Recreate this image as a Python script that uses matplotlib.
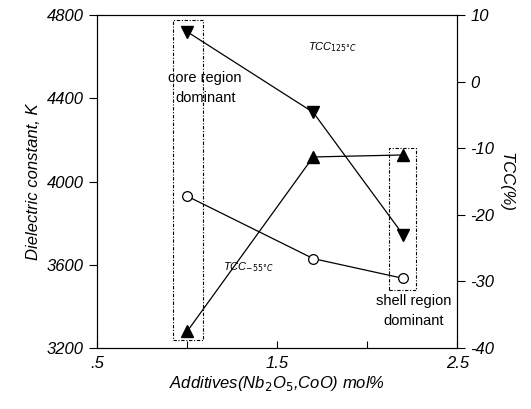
import matplotlib.pyplot as plt
from matplotlib.patches import Rectangle

plt.rcParams['font.family'] = ['Liberation Sans', 'DejaVu Sans']

# additives content, mol%
additives = [1.0, 1.7, 2.2]
# dielectric constant K (left axis)
k_values = [3930, 3630, 3535]
# TCC values, % (right axis)
tcc_125 = [7.5, -4.6, -23.0]
tcc_m55 = [-37.5, -11.3, -11.0]

x_ticks = [0.5, 1.0, 1.5, 2.0, 2.5]
x_ticklabels = ['.5', '', '1.5', '', '2.5']
k_ticks = [3200, 3600, 4000, 4400, 4800]
tcc_ticks = [-40, -30, -20, -10, 0, 10]

fig = plt.figure(figsize=(5.31, 4.09), dpi=100)
ax = fig.add_axes([0.183, 0.149, 0.678, 0.814])
ax2 = ax.twinx()

ax.plot(additives, k_values, color='black', lw=0.9, marker='o', ms=7,
        mfc='white', mec='black', mew=0.9)
ax2.plot(additives, tcc_125, color='black', lw=0.9, marker='v', ms=8, mfc='black', mec='black')
ax2.plot(additives, tcc_m55, color='black', lw=0.9, marker='^', ms=8, mfc='black', mec='black')

ax.set_xlim(0.5, 2.5)
ax.set_ylim(3200, 4800)
ax2.set_ylim(-40, 10)

ax.set_xticks(x_ticks)
ax.set_xticklabels(x_ticklabels, fontsize=12, style='italic')
ax.set_yticks(k_ticks)
ax.set_yticklabels([str(v) for v in k_ticks], fontsize=12, style='italic')
ax2.set_yticks(tcc_ticks)
ax2.set_yticklabels([str(v) for v in tcc_ticks], fontsize=12, style='italic')

ax.tick_params(axis='x', direction='in', length=5, pad=6)
ax.tick_params(axis='y', direction='out', length=6)
ax2.tick_params(axis='y', direction='out', length=6)

ax.set_xlabel('Additives(Nb$_2$O$_5$,CoO) mol%', fontsize=12, style='italic', labelpad=2)
ax.set_ylabel('Dielectric constant, K', fontsize=12, style='italic')
ax2.set_ylabel('TCC(%)', fontsize=12, style='italic', rotation=270, labelpad=14)

# dashed region boxes
ax.add_patch(Rectangle((0.922, 3238), 0.167, 1538, fill=False, ls=(0, (3, 1.5, 1, 1.5)), lw=0.8, color='black'))
ax.add_patch(Rectangle((2.122, 3479), 0.15, 682, fill=False, ls=(0, (3, 1.5, 1, 1.5)), lw=0.8, color='black'))

ax.text(1.1, 4450, 'core region\ndominant', fontsize=10.5, ha='center', va='center', linespacing=1.6)
ax.text(2.256, 3378, 'shell region\ndominant', fontsize=10.5, ha='center', va='center', linespacing=1.6)
ax.text(1.81, 4646, 'TCC$_{125°C}$', fontsize=8, style='italic', ha='center', va='center')
ax.text(1.34, 3590, 'TCC$_{-55°C}$', fontsize=8, style='italic', ha='center', va='center')

fig.savefig('out.png', dpi=100)
